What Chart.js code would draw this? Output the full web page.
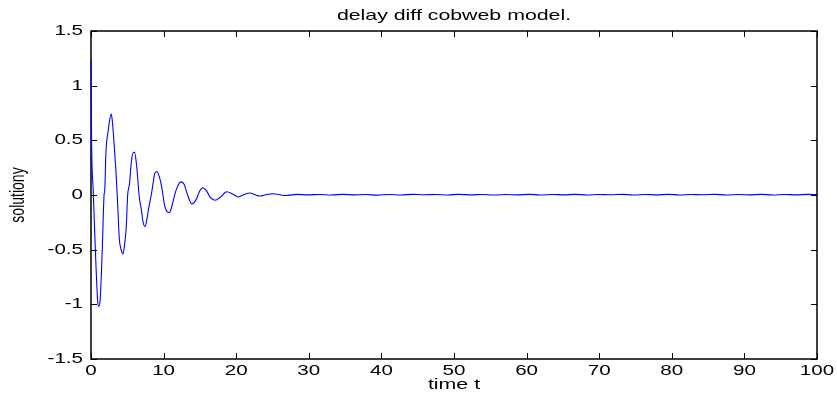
<!DOCTYPE html>
<html>
<head>
<meta charset="utf-8">
<script src="https://cdn.jsdelivr.net/npm/chart.js@4/dist/chart.umd.min.js"></script>
<style>
html,body{margin:0;padding:0;background:#fff;}
#wrap{width:837px;height:395px;position:relative;}
</style>
</head>
<body>
<div id="wrap"><canvas id="c" width="837" height="395"></canvas></div>
<script>
const chartTitle = "delay diff cobweb model.";
const xLabel = "time t";
const yLabel = "solutiony";
const xTicks = [0,10,20,30,40,50,60,70,80,90,100];
const yTicks = [-1.5,-1,-0.5,0,0.5,1,1.5];

const timeT = [
 0,0.08,0.3,0.6,0.9,1.05,1.25,1.55,1.8,1.9,2.05,2.4,2.75,2.9,3.2,3.45,3.65,3.9,4.15,4.4,
 4.6,4.85,5.05,5.3,5.55,5.85,6.0,6.3,6.65,6.95,7.15,7.45,7.7,7.95,8.3,8.6,8.75,9.05,9.4,9.75,
 10.15,10.45,10.8,11.1,11.6,12.0,12.4,12.8,13.3,13.9,14.5,15.0,15.4,15.9,16.4,17.1,17.8,18.7,19.5,20.3,
 21.1,21.9,22.6,23.3,24.2,25.1,26.0,26.9,28.3,29.9,31.5,33.1,34.7,36.3,37.9,39.5,41.1,42.7,44.3,45.9,
 47.5,49.1,50.7,52.3,53.9,55.5,57.1,58.7,60.3,61.9,63.5,65.1,66.7,68.3,69.9,71.5,73.1,74.7,76.3,77.9,
 79.5,81.1,82.7,84.3,85.9,87.5,89.1,90.7,92.3,93.9,95.5,97.1,98.7,100
];
const solutionY = [
 1.23,0.5,0.05,-0.5,-0.95,-1.02,-0.97,-0.5,0.0,0.05,0.38,0.6,0.74,0.7,0.45,0.2,-0.05,-0.4,-0.5,-0.54,
 -0.47,-0.3,0.0,0.1,0.3,0.39,0.39,0.26,-0.02,-0.14,-0.24,-0.29,-0.22,-0.12,0.0,0.13,0.19,0.215,0.17,0.07,
 -0.1,-0.15,-0.16,-0.11,0.02,0.09,0.12,0.1,0.0,-0.082,-0.04,0.04,0.066,0.04,-0.02,-0.048,-0.02,0.03,0.01,-0.018,
 0.005,0.018,0.002,-0.009,0.005,0.012,0.002,-0.004,0.006,0.001,0.005,0.0,0.006,0.001,0.004,-0.001,0.005,0.0,0.006,0.002,
 0.005,0.0,0.006,0.001,0.005,0.0,0.004,0.001,0.006,0.0,0.005,0.001,0.006,0.0,0.004,0.002,0.006,0.0,0.005,0.001,
 0.006,0.0,0.005,0.002,0.006,0.0,0.004,0.001,0.006,0.0,0.005,0.001,0.006,0.003
];

const points = timeT.map((t,i)=>({x:t,y:solutionY[i]}));
const FONT = "'Liberation Sans', Arial, Helvetica, sans-serif";
const STRETCH = 1.47;

// Draw all text glyphs horizontally widened, as in the reference image
const stretchPlugin = {
  id:'stretchText',
  beforeInit(chart){
    const ctx = chart.ctx;
    const base = CanvasRenderingContext2D.prototype.fillText;
    ctx.fillText = function(text, x, y){
      this.save();
      const m = this.getTransform();
      this.translate(x, y);
      if (Math.abs(m.b) > 0.5) this.scale(1, STRETCH); else this.scale(STRETCH, 1);
      base.call(this, text, 0, 0);
      this.restore();
    };
  }
};

const boxPlugin = {
  id:'matlabBox',
  beforeDatasetsDraw(chart){
    const ctx = chart.ctx, a = chart.chartArea;
    const xs = chart.scales.x, ys = chart.scales.y;
    ctx.save();
    ctx.strokeStyle = '#000';
    ctx.lineWidth = 1.5;
    const L = Math.round(a.left), R = Math.round(a.right), T = Math.round(a.top), B = Math.round(a.bottom);
    ctx.beginPath();
    ctx.rect(L, T, R-L, B-T);
    ctx.stroke();
    const tl = 6;
    ctx.lineWidth = 1;
    ctx.beginPath();
    xTicks.forEach(v=>{
      const px = Math.round(xs.getPixelForValue(v))+0.5;
      ctx.moveTo(px,B); ctx.lineTo(px,B-tl);
      ctx.moveTo(px,T); ctx.lineTo(px,T+tl);
    });
    yTicks.forEach(v=>{
      const py = Math.round(ys.getPixelForValue(v))+0.5;
      ctx.moveTo(L,py); ctx.lineTo(L+tl,py);
      ctx.moveTo(R,py); ctx.lineTo(R-tl,py);
    });
    ctx.stroke();
    ctx.restore();
  }
};

new Chart(document.getElementById('c'), {
  type:'line',
  data:{datasets:[{
    data:points,
    borderColor:'#0000ff',
    borderWidth:1.1,
    pointRadius:0,
    fill:false,
    clip:false,
    cubicInterpolationMode:'monotone'
  }]},
  options:{
    responsive:false,
    animation:false,
    layout:{padding:{left:0,right:20,top:0,bottom:0}},
    plugins:{
      legend:{display:false},
      tooltip:{enabled:false},
      title:{display:true,text:chartTitle,color:'#000',fullSize:false,
        font:{family:FONT,size:14.5,weight:'normal',lineHeight:1.2},
        padding:{top:7.6,bottom:6}}
    },
    scales:{
      x:{type:'linear',min:0,max:100,
        afterBuildTicks(s){s.ticks = xTicks.map(v=>({value:v}));},
        afterFit(s){s.height=36;},
        grid:{display:false,drawTicks:false},
        border:{display:false},
        ticks:{color:'#000',padding:4,maxRotation:0,autoSkip:false,font:{family:FONT,size:14},
          callback:(v)=>String(v)},
        title:{display:true,text:xLabel,color:'#000',font:{family:FONT,size:14.5,lineHeight:1.2},padding:{top:0,bottom:1}}
      },
      y:{type:'linear',min:-1.5,max:1.5,
        afterBuildTicks(s){s.ticks = yTicks.map(v=>({value:v}));},
        afterFit(s){s.width=91;},
        grid:{display:false,drawTicks:false},
        border:{display:false},
        ticks:{color:'#000',padding:8,autoSkip:false,font:{family:FONT,size:14},
          callback:(v)=>String(v)},
        title:{display:true,text:yLabel,color:'#000',font:{family:FONT,size:14,lineHeight:1.2},padding:{top:9.6,bottom:0}}
      }
    }
  },
  plugins:[stretchPlugin, boxPlugin]
});
</script>
</body>
</html>
